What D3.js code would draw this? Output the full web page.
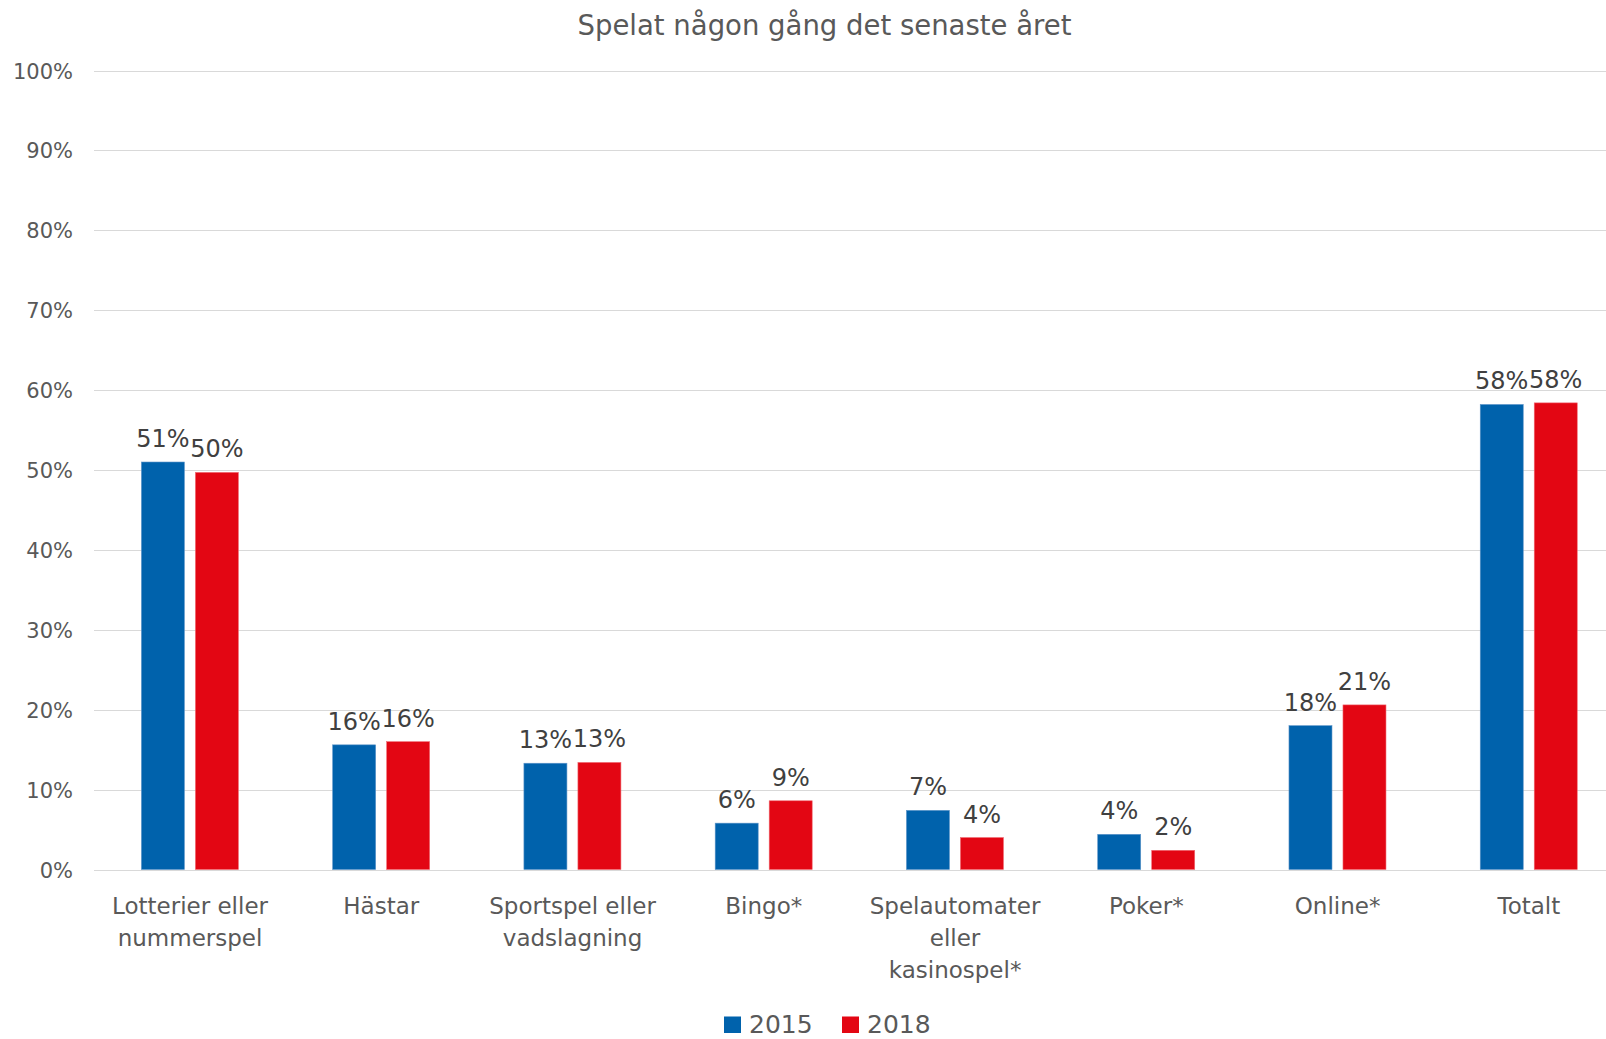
<!DOCTYPE html>
<html lang="sv">
<head>
<meta charset="UTF-8">
<title>Spelat någon gång det senaste året</title>
<style>
  body { margin: 0; background: #fff; overflow: hidden; }
  svg { display: block; font-family: Tahoma, "DejaVu Sans", Verdana, sans-serif; }
  .grid line { stroke: #d9d9d9; stroke-width: 1; }
  .tick-label { fill: #595959; font-size: 21px; }
  .cat-label { fill: #595959; font-size: 23px; }
  .value-label { fill: #404040; font-size: 24px; }
  .title { fill: #595959; font-size: 27.5px; }
  .legend text { fill: #595959; font-size: 25px; }
</style>
</head>
<body>
<svg id="chart"></svg>
<script src="https://d3js.org/d3.v7.min.js"></script>
<script>
  // data
  const categories = ["Lotterier eller nummerspel", "Hästar", "Sportspel eller vadslagning",
    "Bingo*", "Spelautomater eller kasinospel*", "Poker*", "Online*", "Totalt"];
  const categoryLines = [
    ["Lotterier eller", "nummerspel"],
    ["Hästar"],
    ["Sportspel eller", "vadslagning"],
    ["Bingo*"],
    ["Spelautomater", "eller", "kasinospel*"],
    ["Poker*"],
    ["Online*"],
    ["Totalt"]
  ];
  const years = ["2015", "2018"];
  const values2015 = [0.510, 0.156, 0.133, 0.058, 0.074, 0.044, 0.180, 0.582];
  const values2018 = [0.497, 0.160, 0.134, 0.086, 0.040, 0.024, 0.206, 0.584];
  const yTicks = [0, 0.1, 0.2, 0.3, 0.4, 0.5, 0.6, 0.7, 0.8, 0.9, 1.0];
  const colors = ["#0062ac", "#e30613"];

  const width = 1606, height = 1039;
  const svg = d3.select("#chart").attr("width", width).attr("height", height);

  // plot area runs a little past the right edge, like the cropped original
  const x0 = d3.scaleBand().domain(categories).range([94.4, 1624.5]).padding(0);
  const x1 = d3.scaleBand().domain(years).range([47, 144]).paddingInner(0.2037).paddingOuter(0);
  const y = d3.scaleLinear().domain([0, 1]).range([869.5, 70.5]);

  // gridlines
  svg.append("g").attr("class", "grid")
    .selectAll("line").data(yTicks).enter().append("line")
    .attr("x1", 94).attr("x2", width)
    .attr("y1", d => Math.round(y(d)) + 0.5)
    .attr("y2", d => Math.round(y(d)) + 0.5);

  // y tick labels
  svg.append("g").selectAll("text").data(yTicks).enter().append("text")
    .attr("class", "tick-label")
    .attr("x", 73)
    .attr("y", d => y(d) + 8)
    .attr("text-anchor", "end")
    .text(d => d3.format(".0%")(d));

  // title
  svg.append("text").attr("class", "title")
    .attr("x", 824.5).attr("y", 35)
    .attr("text-anchor", "middle")
    .text("Spelat någon gång det senaste året");

  const series = [values2015, values2018];
  const groups = svg.append("g").selectAll("g").data(categories).enter().append("g")
    .attr("transform", d => `translate(${x0(d)},0)`);

  groups.selectAll("rect")
    .data((d, i) => years.map((yr, j) => ({ yr, v: series[j][i], j })))
    .enter().append("rect")
    .attr("x", d => x1(d.yr))
    .attr("width", x1.bandwidth())
    .attr("y", d => y(d.v))
    .attr("height", d => y(0) - y(d.v))
    .attr("fill", d => colors[d.j])
    .attr("stroke", d => d.j === 0 ? "#5b93c8" : "#f06a72")
    .attr("stroke-width", 0.6);

  groups.selectAll("text.value-label")
    .data((d, i) => years.map((yr, j) => ({ yr, v: series[j][i] })))
    .enter().append("text")
    .attr("class", "value-label")
    .attr("x", d => x1(d.yr) + x1.bandwidth() / 2)
    .attr("y", d => y(d.v) - 15)
    .attr("text-anchor", "middle")
    .text(d => d3.format(".0%")(d.v));

  // category labels
  groups.each(function(d, i) {
    const t = d3.select(this).append("text")
      .attr("class", "cat-label")
      .attr("text-anchor", "middle")
      .attr("x", x0.bandwidth() / 2)
      .attr("y", 914);
    categoryLines[i].forEach((line, k) => {
      t.append("tspan").attr("x", x0.bandwidth() / 2).attr("dy", k === 0 ? 0 : 32).text(line);
    });
  });

  // legend
  const legend = svg.append("g").attr("class", "legend");
  const legendX = [724, 842];
  years.forEach((yr, j) => {
    legend.append("rect")
      .attr("x", legendX[j]).attr("y", 1016.5)
      .attr("width", 17).attr("height", 16.5)
      .attr("fill", colors[j]);
    legend.append("text")
      .attr("x", legendX[j] + 25).attr("y", 1032.5)
      .text(yr);
  });
</script>
</body>
</html>
